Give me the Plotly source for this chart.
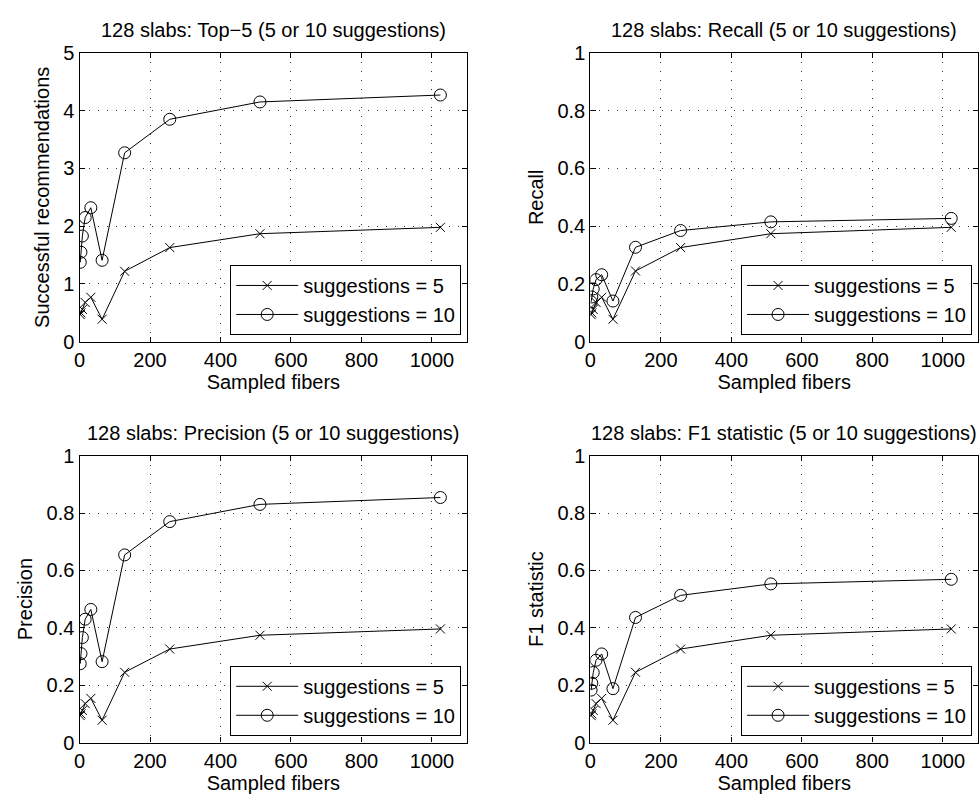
import plotly.graph_objects as go

sampled_fibers = [2, 4, 8, 16, 32, 64, 128, 256, 512, 1024]

top5_s5 = [0.47, 0.50, 0.56, 0.68, 0.77, 0.39, 1.22, 1.63, 1.87, 1.98]
top5_s10 = [1.375, 1.55, 1.83, 2.15, 2.32, 1.41, 3.27, 3.85, 4.15, 4.27]

recall_s5 = [0.094, 0.100, 0.112, 0.136, 0.154, 0.078, 0.245, 0.326, 0.374, 0.396]
recall_s10 = [0.138, 0.155, 0.183, 0.215, 0.232, 0.141, 0.327, 0.385, 0.415, 0.427]

precision_s5 = [0.094, 0.100, 0.112, 0.136, 0.154, 0.078, 0.245, 0.326, 0.374, 0.396]
precision_s10 = [0.275, 0.310, 0.366, 0.430, 0.464, 0.282, 0.654, 0.770, 0.830, 0.854]

f1_s5 = [0.094, 0.100, 0.112, 0.136, 0.154, 0.078, 0.245, 0.326, 0.374, 0.396]
f1_s10 = [0.183, 0.207, 0.244, 0.287, 0.309, 0.188, 0.436, 0.513, 0.553, 0.569]

titles = [
    "128 slabs: Top\u22125 (5 or 10 suggestions)",
    "128 slabs: Recall (5 or 10 suggestions)",
    "128 slabs: Precision (5 or 10 suggestions)",
    "128 slabs: F1 statistic (5 or 10 suggestions)",
]
ytitles = ["Successful recommendations", "Recall", "Precision", "F1 statistic"]
xtitle = "Sampled fibers"
legend_names = ["suggestions = 5", "suggestions = 10"]

W, H = 980, 811
FONT = "Liberation Sans, Arial, Helvetica, sans-serif"
FS = 20

# pixel boxes: (left, right, top, bottom)
boxes = [(74, 464, 43, 340), (588, 978, 43, 340), (74, 464, 457, 752), (588, 978, 457, 752)]

series = [(top5_s5, top5_s10), (recall_s5, recall_s10), (precision_s5, precision_s10), (f1_s5, f1_s10)]
yranges = [[0, 5], [0, 1], [0, 1], [0, 1]]
ydticks = [1, 0.2, 0.2, 0.2]

fig = go.Figure()
layout = dict(
    width=W, height=H,
    margin=dict(l=0, r=0, t=0, b=0),
    paper_bgcolor="white", plot_bgcolor="white",
    font=dict(family=FONT, size=FS, color="black"),
    showlegend=True,
    annotations=[],
)

for i, ((s5, s10), box) in enumerate(zip(series, boxes)):
    n = i + 1
    xa = "x" if n == 1 else f"x{n}"
    ya = "y" if n == 1 else f"y{n}"
    leg = "legend" if n == 1 else f"legend{n}"
    fig.add_trace(go.Scatter(
        x=sampled_fibers, y=s5, mode="lines+markers", name=legend_names[0],
        xaxis=xa, yaxis=ya, legend=leg,
        line=dict(color="black", width=1),
        marker=dict(symbol="x-thin-open", size=9, color="black", line=dict(width=1, color="black")),
    ))
    fig.add_trace(go.Scatter(
        x=sampled_fibers, y=s10, mode="lines+markers", name=legend_names[1],
        xaxis=xa, yaxis=ya, legend=leg,
        line=dict(color="black", width=1),
        marker=dict(symbol="circle-open", size=12, color="black", line=dict(width=1, color="black")),
    ))
    l, r, t, b = box
    xdom = [l / W, r / W]
    ydom = [1 - b / H, 1 - t / H]
    axcommon = dict(
        showline=True, linecolor="black", linewidth=1.3, mirror="ticks",
        ticks="inside", ticklen=5, tickcolor="black", tickwidth=1,
        showgrid=True, gridcolor="#333333", gridwidth=1, griddash="1px,8px",
        zeroline=False, tickfont=dict(family=FONT, size=FS, color="black"),
    )
    layout[f"xaxis{'' if n == 1 else n}"] = dict(
        axcommon, domain=xdom, anchor=ya, range=[0, 1100], tick0=0, dtick=200,
        title=dict(text=xtitle, font=dict(family=FONT, size=FS), standoff=2),
    )
    layout[f"yaxis{'' if n == 1 else n}"] = dict(
        axcommon, domain=ydom, anchor=xa, range=yranges[i], tick0=0, dtick=ydticks[i],
        title=dict(text=ytitles[i], font=dict(family=FONT, size=FS), standoff=8),
    )
    layout[leg] = dict(
        x=(r - 6) / W, y=1 - (b - 7) / H, xanchor="right", yanchor="bottom",
        xref="paper", yref="paper",
        bgcolor="white", bordercolor="black", borderwidth=1,
        font=dict(family=FONT, size=FS, color="black"),
        itemwidth=62, tracegroupgap=0,
    )
    layout["annotations"].append(dict(
        text=titles[i], x=(l + r) / 2 / W, y=1 - t / H, xref="paper", yref="paper",
        xanchor="center", yanchor="bottom", yshift=10, showarrow=False,
        font=dict(family=FONT, size=FS, color="black"),
    ))

fig.update_layout(**layout)
fig.write_html("out.html", post_script="document.body.style.margin='0';",
               config={"displayModeBar": False})
